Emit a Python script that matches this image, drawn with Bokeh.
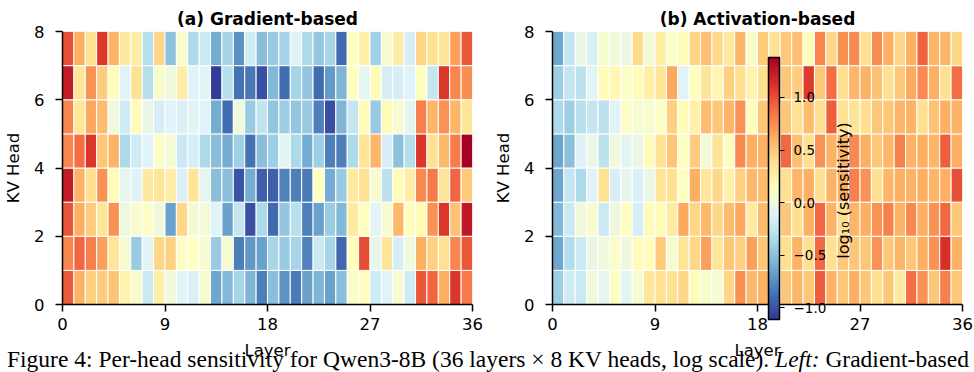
import math
from bokeh.plotting import figure
from bokeh.models import (ColumnDataSource, LinearColorMapper, ColorBar, FixedTicker,
                          Range1d, Label, CustomJSTickFormatter, Div)
from bokeh.layouts import row, column
from bokeh.embed import file_html
from bokeh.resources import INLINE

# ---------------- data (log10 sensitivity) ----------------
n_layers = 36
n_heads = 8
x_ticks = [0, 9, 18, 27, 36]
y_ticks = [0, 2, 4, 6, 8]
cbar_ticks = [-1.0, -0.5, 0.0, 0.5, 1.0]
vmin, vmax = -1.11, 1.38
titles = ["(a) Gradient-based", "(b) Activation-based"]
caption_main = "Figure 4: Per-head sensitivity for Qwen3-8B (36 layers \u00d7 8 KV heads, log scale)."
caption_italic = "Left:"
caption_tail = "Gradient-based"

grad_h0 = [0.96, 0.61, 0.46, 0.48, 0.53, 0.23, 0.08, -0.21, 0.26, 0.01, -0.09, -0.14, 0.06, -0.64, -0.54, -0.39, -0.56, -0.81,
           -0.51, -0.73, -0.83, -0.66, -0.56, -0.66, -0.51, 0.09, 0.14, -0.19, -0.11, 0.06, -0.19, 0.97, 0.91, 0.63, 1.1, 0.83]
grad_h1 = [0.78, 0.91, 0.81, 0.68, 0.33, 0.06, -0.44, -0.09, 0.43, 0.46, 0.11, 0.13, 0.06, -0.44, 0.06, -0.81, -0.71, -0.66,
           -0.38, -0.44, -0.38, -0.8, -0.21, -0.38, -0.91, 0.14, 1.02, -0.05, 0.33, -0.16, 0.01, 0.63, 0.46, 0.36, 0.78, 0.97]
grad_h2 = [0.98, 0.63, 0.48, 0.33, 0.73, -0.01, 0.08, 0.11, 0.01, -0.66, 0.43, 0.04, 0.04, -0.11, -0.66, -0.24, -1.01, -0.36,
           -0.9, -0.46, -0.3, -0.81, -0.66, -0.43, -0.54, 0.31, 0.14, -0.09, 0.06, 0.59, 0.14, 0.18, 0.73, 1.1, 0.53, 1.25]
grad_h3 = [1.23, 0.61, 0.38, 0.73, 0.16, -0.06, -0.11, 0.31, 0.33, 0.28, -0.14, 0.33, -0.06, -0.51, -0.51, -0.99, -0.61, -0.94,
           -0.94, -0.8, -0.81, -0.83, 0.13, -0.61, -0.44, 0.3, 0.36, 0.06, -0.28, 0.16, 0.28, 0.77, 0.83, 0.35, 0.91, 0.49]
grad_h4 = [0.78, 0.88, 1.1, 0.51, 0.61, -0.36, -0.19, -0.11, 0.11, 0.04, -0.21, -0.16, -0.36, -0.51, -0.61, -0.41, -0.86, -0.51,
           -0.42, -0.09, -0.36, -0.61, -0.42, -0.81, -0.81, -0.35, 0.33, 0.6, -0.16, -0.5, -0.31, 1.1, 0.36, 0.58, 0.82, 1.38]
grad_h5 = [0.78, 0.33, 0.66, 0.56, 0.01, -0.19, 0.16, -0.04, -0.16, -0.11, -0.14, -0.09, -0.11, -0.61, -0.89, 0.01, -0.44, -0.26,
           -0.47, -0.42, -0.46, -0.44, -0.81, -1.01, -0.56, -0.24, 0.16, -0.44, 0.16, 0.06, -0.06, 0.81, 0.6, 0.73, 0.6, 0.33]
grad_h6 = [1.23, 0.33, 0.73, 0.48, 0.16, -0.11, 0.36, -0.31, 0.08, 0.01, 0.28, -0.11, -0.09, -1.08, -0.31, -0.86, -0.84, -1.01,
           -0.54, -0.89, -0.39, -0.46, -0.89, -0.69, -0.56, 0.14, -0.07, 0.16, -0.16, -0.16, -0.11, 0.14, -0.24, 1.1, 0.78, 0.75]
grad_h7 = [1.0, 0.63, 0.36, 1.1, 0.6, 0.31, 0.28, -0.31, 0.43, -0.49, 0.08, -0.36, -0.21, -0.61, -0.39, -0.74, -0.19, -0.51,
           -0.44, -0.39, -0.11, -0.36, -0.46, -0.38, -0.89, 0.13, 0.25, -0.4, 0.06, 0.28, -0.16, 0.43, 0.36, 0.34, 0.68, 0.97]

act_h0 = [-0.42, -0.19, -0.21, 0.01, -0.06, 0.11, -0.09, 0.06, 0.33, 0.37, 0.36, 0.43, 0.16, 0.08, 0.05, 0.43, 0.74, 0.58,
          0.61, 0.55, 0.51, 0.6, 0.51, 0.94, 0.61, 0.51, 0.63, 0.51, 0.38, 0.51, 0.3, 0.88, 0.73, 0.51, 0.8, 0.51]
act_h1 = [-0.64, -0.33, -0.21, -0.03, 0.01, 0.09, -0.01, 0.16, 0.15, 0.49, 0.06, 0.35, 0.42, 0.68, 0.33, 0.51, 0.46, 0.68,
          0.51, 0.5, 0.38, 0.61, 0.38, 0.9, 0.38, 0.51, 0.51, 0.51, 0.73, 0.51, 0.6, 0.51, 0.63, 0.73, 1.13, 0.61]
act_h2 = [-0.54, -0.21, 0.01, 0.07, -0.21, -0.01, 0.14, -0.16, 0.16, 0.16, 0.3, 0.66, 0.43, 0.58, 0.42, 0.56, 0.66, 0.3,
          0.56, 0.55, 0.51, 0.38, 0.63, 0.9, 0.61, 0.38, 0.6, 0.63, 0.73, 0.8, 0.61, 0.77, 0.63, 0.73, 0.9, 0.51]
act_h3 = [-0.64, -0.24, -0.35, -0.11, 0.36, -0.15, -0.05, -0.14, -0.03, 0.35, 0.37, 0.12, 0.63, 0.32, 0.42, 0.25, 0.46, 0.58,
          0.56, 0.5, 0.38, 0.6, 0.63, 0.38, 0.61, 0.63, 0.8, 0.73, 0.38, 0.6, 0.63, 0.61, 0.63, 0.6, 0.63, 1.0]
act_h4 = [-0.64, -0.5, -0.12, -0.04, -0.28, 0.01, -0.08, -0.03, 0.16, 0.37, 0.52, 0.12, 0.48, 0.03, 0.35, 0.12, 0.77, 0.63,
          0.61, 0.6, 0.9, 0.55, 0.38, 0.73, 0.61, 0.61, 0.77, 0.63, 0.51, 0.6, 0.8, 0.61, 0.63, 0.6, 0.94, 0.63]
act_h5 = [-0.36, -0.42, -0.3, -0.24, -0.28, -0.11, 0.11, 0.06, 0.08, 0.11, 0.46, 0.17, 0.25, 0.56, 0.51, 0.6, 0.73, 0.15,
          0.51, 0.5, 0.51, 0.37, 0.56, 0.38, 0.94, 0.36, 0.35, 0.38, 0.51, 0.51, 0.6, 0.61, 0.38, 0.53, 0.63, 0.61]
act_h6 = [-0.42, -0.24, -0.28, -0.09, 0.16, 0.2, 0.11, 0.16, 0.27, 0.33, 0.65, -0.11, 0.15, 0.33, 0.2, 0.46, 0.38, 0.23,
          0.36, 0.45, 0.51, 0.47, 1.08, 0.51, 0.88, 0.38, 0.6, 0.61, 0.53, 0.38, 0.5, 0.65, 0.77, 0.63, 0.36, 0.88]
act_h7 = [-0.64, -0.25, -0.04, -0.15, 0.07, 0.01, -0.03, 0.41, 0.03, 0.27, 0.11, 0.17, 0.43, 0.55, 0.41, 0.31, 0.6, 0.08,
          0.49, 0.36, 0.5, 0.55, 0.15, 0.78, 0.43, 0.74, 0.77, 0.38, 0.76, 0.63, 0.43, 0.63, 0.92, 0.6, 0.6, 0.42]

grad_rows = [grad_h0, grad_h1, grad_h2, grad_h3, grad_h4, grad_h5, grad_h6, grad_h7]
act_rows = [act_h0, act_h1, act_h2, act_h3, act_h4, act_h5, act_h6, act_h7]

# ---------------- colormap (RdYlBu reversed, interpolated) ----------------
rdylbu = ["#313695", "#4575b4", "#74add1", "#abd9e9", "#e0f3f8", "#ffffbf",
          "#fee090", "#fdae61", "#f46d43", "#d73027", "#a50026"]


def interp(colors, n):
    rgb = [tuple(int(c[i:i + 2], 16) for i in (1, 3, 5)) for c in colors]
    out = []
    for k in range(n):
        t = k / (n - 1) * (len(rgb) - 1)
        i = min(int(t), len(rgb) - 2)
        f = t - i
        a, b = rgb[i], rgb[i + 1]
        out.append("#%02x%02x%02x" % tuple(round(a[j] + (b[j] - a[j]) * f) for j in range(3)))
    return out


palette = interp(rdylbu, 256)
mapper = LinearColorMapper(palette=palette, low=vmin, high=vmax)

# ---------------- layout (page content starts at 0,0) ----------------
FONT = "DejaVu Sans"
SERIF = "Liberation Serif"
H = 372
W1, W2 = 490, 484
BL, FW, BT, FH = 62, 410, 31, 273
BB = H - BT - FH
SX = FW / n_layers
SY = FH / n_heads
FRAME_BOTTOM = BT + FH
F2 = W1 + BL


def make_fig(title, width, right_border, rows):
    p = figure(width=width, height=H, x_range=Range1d(0, n_layers), y_range=Range1d(0, n_heads),
               output_backend="svg", toolbar_location=None, title=title,
               min_border_left=BL, min_border_right=right_border,
               min_border_top=BT, min_border_bottom=BB)
    xs, ys, vs = [], [], []
    for h, r in enumerate(rows):
        for l, v in enumerate(r):
            xs.append(l + 0.5)
            ys.append(h + 0.5)
            vs.append(v)
    src = ColumnDataSource(dict(x=xs, y=ys, v=vs))
    p.rect(x="x", y="y", width=1, height=1, source=src,
           fill_color={"field": "v", "transform": mapper},
           line_color="white", line_width=1)

    p.title.align = "center"
    p.title.text_font = FONT
    p.title.text_font_size = "17px"
    p.title.text_font_style = "bold"
    p.title.text_color = "black"
    p.title.standoff = 5

    p.grid.visible = False
    p.outline_line_color = None
    p.background_fill_color = "white"
    p.border_fill_color = "white"

    p.xaxis.ticker = FixedTicker(ticks=x_ticks)
    p.yaxis.ticker = FixedTicker(ticks=y_ticks)
    p.xaxis.axis_label = "Layer"
    p.yaxis.axis_label = "KV Head"
    for ax in (p.xaxis, p.yaxis):
        ax.axis_label_text_font = FONT
        ax.axis_label_text_font_size = "16.5px"
        ax.axis_label_text_font_style = "normal"
        ax.axis_label_text_color = "black"
        ax.major_label_text_font = FONT
        ax.major_label_text_font_size = "16.5px"
        ax.major_label_text_color = "black"
        ax.axis_line_width = 1.5
        ax.axis_line_color = "black"
        ax.major_tick_line_width = 1.5
        ax.major_tick_line_color = "black"
        ax.major_tick_out = 7
        ax.major_tick_in = 0
        ax.minor_tick_line_color = None
    p.xaxis.major_label_standoff = 6
    p.xaxis.axis_label_standoff = 8
    p.yaxis.major_label_standoff = 11
    p.yaxis.axis_label_standoff = 8
    return p


p1 = make_fig(titles[0], W1, W1 - BL - FW, grad_rows)
p2 = make_fig(titles[1], W2, W2 - BL - FW, act_rows)

cbar = ColorBar(color_mapper=mapper, location=(216, -15), orientation="vertical",
                width=11, height=262, padding=0,
                ticker=FixedTicker(ticks=cbar_ticks),
                formatter=CustomJSTickFormatter(code="return (tick < 0 ? '\u2212' : '') + Math.abs(tick).toFixed(1);"),
                background_fill_alpha=0, border_line_color=None,
                bar_line_color="black", bar_line_width=1.5,
                major_tick_line_color="black", major_tick_line_width=1.2,
                major_tick_in=0, major_tick_out=5, minor_tick_line_color=None,
                label_standoff=9, major_label_text_font=FONT,
                major_label_text_font_size="13.5px", major_label_text_color="black")
p2.add_layout(cbar, "center")

p2.add_layout(Label(x=(843 - F2) / SX, y=(FRAME_BOTTOM - 190) / SY,
                    text="log\u2081\u2080 (sensitivity)", angle=math.pi / 2,
                    text_font=FONT, text_font_size="16px", text_color="black",
                    text_align="center", text_baseline="middle"))

cap_h = 26
caption = Div(
    text=(caption_main + " <i>" + caption_italic + "</i> " + caption_tail),
    width=W1 + W2, height=cap_h, margin=(-cap_h, 0, 0, 0),
    styles={"font-family": SERIF, "font-size": "23.5px", "line-height": "%dpx" % cap_h,
            "white-space": "nowrap", "color": "black", "padding-left": "7px",
            "overflow": "hidden", "background": "transparent"})

layout = column(row(p1, p2, spacing=0), caption, spacing=0)
open("out.html", "w").write(file_html(layout, INLINE))
